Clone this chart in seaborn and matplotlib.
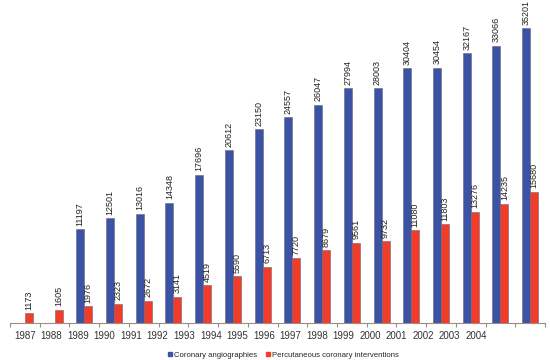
import numpy as np
import pandas as pd
import seaborn as sns
import matplotlib.pyplot as plt

years = [str(y) for y in range(1987, 2005)]
angio = [np.nan, np.nan, 11197, 12501, 13016, 14348, 17696, 20612, 23150,
         24557, 26047, 27994, 28003, 30404, 30454, 32167, 33066, 35201]
pci = [1173, 1605, 1976, 2323, 2672, 3141, 4519, 5590, 6713,
       7720, 8679, 9561, 9732, 11080, 11803, 13276, 14235, 15680]
series = ["Coronary angiographies", "Percutaneous coronary interventions"]
colors = ["#3b52a5", "#f23c28"]

df = pd.DataFrame({
    "year": years * 2,
    "value": angio + pci,
    "series": [series[0]] * len(years) + [series[1]] * len(years),
})

sns.set_style("white")
plt.rcParams["font.family"] = ["Liberation Sans", "DejaVu Sans"]

fig = plt.figure(figsize=(5.5, 3.6), dpi=100)
ax = fig.add_axes([10 / 550, 37 / 360, 535 / 550, 323 / 360])

sns.barplot(data=df, x="year", y="value", hue="series", order=years,
            hue_order=series, palette=colors, saturation=1, width=0.54,
            edgecolor="#666677", linewidth=0.4, legend=False, ax=ax)

for cont in ax.containers:
    vals = [f"{int(b.get_height())}" for b in cont]
    ax.bar_label(cont, labels=vals, rotation=90, padding=2.5, fontsize=6.5,
                 color="#222222")

ax.set_xlim(-0.5, len(years) - 0.5)
ax.set_ylim(0, 38550)
ax.set_xlabel("")
ax.set_ylabel("")
ax.set_yticks([])

# year labels are spread a bit tighter than the groups, as in the original
step = 15.19 / (len(years) - 1)
ax.set_xticks([i * step for i in range(len(years))])
ax.set_xticklabels(years, fontsize=7, color="#333333")
ax.tick_params(axis="x", which="major", length=0, pad=6)
ax.set_xticks(np.arange(-0.5, len(years)), minor=True)
ax.tick_params(axis="x", which="minor", length=3, color="#a08c80", width=0.8,
               direction="out", bottom=True)

for s in ["top", "right", "left"]:
    ax.spines[s].set_visible(False)
ax.spines["bottom"].set_color("#a08c80")
ax.spines["bottom"].set_linewidth(0.8)

handles = [plt.Line2D([], [], marker="s", linestyle="", markersize=3.5,
                      markerfacecolor=c, markeredgecolor=c) for c in colors]
fig.legend(handles, series, loc="center", bbox_to_anchor=(0.514, 5 / 360),
           ncol=2, frameon=False, fontsize=5.6, handletextpad=0.1,
           columnspacing=1.0, handlelength=0.8)

fig.savefig("out.png", dpi=100)
